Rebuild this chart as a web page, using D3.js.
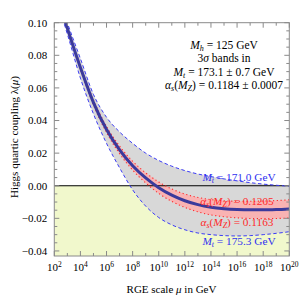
<!DOCTYPE html>
<html>
<head>
<meta charset="utf-8">
<script src="https://cdn.jsdelivr.net/npm/d3@7"></script>
<style>
  body { margin: 0; background: #fff; }
</style>
</head>
<body>
<div id="chart"></div>
<script>
// log10 of the RGE scale in GeV
const logMu = [2.5, 3, 4, 5, 6, 7, 8, 9, 10, 11, 12, 13, 14, 15, 16, 17, 18, 19, 20];
// central curve (Mt = 173.1, alpha_s = 0.1184)
const lamCentral = [0.109, 0.0965, 0.0725, 0.051, 0.0345, 0.0220, 0.0123, 0.0048, -0.0012, -0.0058, -0.0092, -0.0116, -0.0132, -0.0141, -0.0146, -0.0148, -0.0148, -0.0146, -0.0142];
// Mt = 171.0 GeV
const lamMtLow = [0.112, 0.100, 0.078, 0.056, 0.042, 0.033, 0.026, 0.020, 0.0155, 0.0120, 0.0093, 0.0072, 0.0056, 0.0042, 0.0030, 0.0019, 0.0010, 0.0003, -0.0003];
// Mt = 175.3 GeV
const lamMtHigh = [0.106, 0.093, 0.066, 0.044, 0.026, 0.0110, -0.0025, -0.0125, -0.0195, -0.0240, -0.0270, -0.0290, -0.0300, -0.0306, -0.0308, -0.0306, -0.0300, -0.0292, -0.0282];
// alpha_s(MZ) = 0.1205
const lamAsHigh = [0.1098, 0.0975, 0.0737, 0.0525, 0.0364, 0.0243, 0.0150, 0.0079, 0.0023, -0.0020, -0.0051, -0.0072, -0.0085, -0.0092, -0.0095, -0.0095, -0.0094, -0.0091, -0.0086];
// alpha_s(MZ) = 0.1163
const lamAsLow = [0.1082, 0.0955, 0.0713, 0.0495, 0.0326, 0.0197, 0.0096, 0.0017, -0.0047, -0.0096, -0.0133, -0.0160, -0.0179, -0.0190, -0.0197, -0.0201, -0.0202, -0.0201, -0.0198];

const xTicksMajor = [2, 4, 6, 8, 10, 12, 14, 16, 18, 20];
const xTicksMinor = [3, 5, 7, 9, 11, 13, 15, 17, 19];
const yTicksMajor = [-0.04, -0.02, 0.00, 0.02, 0.04, 0.06, 0.08, 0.10];
const yTicksMinor = [-0.035, -0.03, -0.025, -0.015, -0.01, -0.005, 0.005, 0.01, 0.015, 0.025, 0.03, 0.035, 0.045, 0.05, 0.055, 0.065, 0.07, 0.075, 0.085, 0.09, 0.095];

const W = 305, H = 303;
const margin = { top: 22.7, right: 15.7, bottom: 47, left: 54.3 };
const iw = W - margin.left - margin.right;
const ih = H - margin.top - margin.bottom;

const svg = d3.select('#chart').append('svg')
  .attr('width', W).attr('height', H)
  .attr('font-family', '"Liberation Serif", "DejaVu Serif", serif');

const x = d3.scaleLinear().domain([2, 20]).range([0, iw]);
const y = d3.scaleLinear().domain([-0.0431, 0.10]).range([ih, 0]);

svg.append('defs').append('clipPath').attr('id', 'clip')
  .append('rect').attr('width', iw).attr('height', ih);

const g = svg.append('g').attr('transform', 'translate(' + margin.left + ',' + margin.top + ')');
const plot = g.append('g').attr('clip-path', 'url(#clip)');

// unstable region
plot.append('rect')
  .attr('x', 0).attr('y', y(0))
  .attr('width', iw).attr('height', ih - y(0))
  .attr('fill', '#f1f8cc');

const rows = logMu.map((m, i) => ({ m: m, c: lamCentral[i], tl: lamMtLow[i], th: lamMtHigh[i], ah: lamAsHigh[i], al: lamAsLow[i] }));

const area = (lo, hi) => d3.area().curve(d3.curveMonotoneX)
  .x(d => x(d.m)).y0(d => y(d[lo])).y1(d => y(d[hi]));
const line = key => d3.line().curve(d3.curveMonotoneX)
  .x(d => x(d.m)).y(d => y(d[key]));

plot.append('path').attr('d', area('th', 'tl')(rows)).attr('fill', '#d8d8d8');
plot.append('path').attr('d', area('al', 'ah')(rows)).attr('fill', '#f9b3b3');

plot.append('line')
  .attr('x1', 0).attr('x2', iw).attr('y1', y(0)).attr('y2', y(0))
  .attr('stroke', '#000').attr('stroke-width', 1.1);

['ah', 'al'].forEach(k => {
  plot.append('path').attr('d', line(k)(rows))
    .attr('fill', 'none').attr('stroke', '#ff2a2a').attr('stroke-width', 1.1)
    .attr('stroke-dasharray', '1.2,2.6');
});
['tl', 'th'].forEach(k => {
  plot.append('path').attr('d', line(k)(rows))
    .attr('fill', 'none').attr('stroke', '#3b3bf5').attr('stroke-width', 1)
    .attr('stroke-dasharray', '3.5,2.5');
});
plot.append('path').attr('d', line('c')(rows))
  .attr('fill', 'none').attr('stroke', '#3a3a9c').attr('stroke-width', 3);

// frame
const frameCol = '#8a8a8a';
g.append('rect').attr('width', iw).attr('height', ih)
  .attr('fill', 'none').attr('stroke', frameCol).attr('stroke-width', 1);

function ticks(vals, len, isX) {
  vals.forEach(v => {
    if (isX) {
      g.append('line').attr('x1', x(v)).attr('x2', x(v)).attr('y1', ih).attr('y2', ih - len).attr('stroke', frameCol);
      g.append('line').attr('x1', x(v)).attr('x2', x(v)).attr('y1', 0).attr('y2', len).attr('stroke', frameCol);
    } else {
      g.append('line').attr('y1', y(v)).attr('y2', y(v)).attr('x1', 0).attr('x2', len).attr('stroke', frameCol);
      g.append('line').attr('y1', y(v)).attr('y2', y(v)).attr('x1', iw).attr('x2', iw - len).attr('stroke', frameCol);
    }
  });
}
ticks(xTicksMajor, 5, true);
ticks(xTicksMinor, 3, true);
ticks(yTicksMajor, 5, false);
ticks(yTicksMinor, 3, false);

// tick labels
xTicksMajor.forEach(v => {
  const t = g.append('text').attr('x', x(v)).attr('y', ih + 15)
    .attr('text-anchor', 'middle').attr('font-size', 11);
  t.append('tspan').text('10');
  t.append('tspan').attr('dy', -4).attr('font-size', 7.5).text(v);
});
yTicksMajor.forEach(v => {
  g.append('text').attr('x', -7).attr('y', y(v) + 3.8)
    .attr('text-anchor', 'end').attr('font-size', 11)
    .text(d3.format('.2f')(v).replace('-', '\u2212'));
});

// axis titles
const xt = svg.append('text').attr('x', 171.5).attr('y', 293)
  .attr('text-anchor', 'middle').attr('font-size', 11);
xt.append('tspan').text('RGE scale ');
xt.append('tspan').attr('font-style', 'italic').text('\u03bc');
xt.append('tspan').text(' in GeV');

const yt = svg.append('text').attr('transform', 'translate(18,137) rotate(-90)')
  .attr('text-anchor', 'middle').attr('font-size', 11);
yt.append('tspan').text('Higgs quartic coupling \u03bb(');
yt.append('tspan').attr('font-style', 'italic').text('\u03bc');
yt.append('tspan').text(')');

// info block
function sym(t, main, sub, rest) {
  t.append('tspan').attr('font-style', 'italic').text(main);
  t.append('tspan').attr('font-style', 'italic').attr('font-size', '0.7em').attr('dy', 2).text(sub);
  t.append('tspan').attr('dy', -2).text(rest);
}
const info = svg.append('g').attr('font-size', 11.5).attr('text-anchor', 'middle');
const cx = 224;
sym(info.append('text').attr('x', cx).attr('y', 48.5), 'M', 'h', ' = 125 GeV');
const l2 = info.append('text').attr('x', cx).attr('y', 62);
l2.append('tspan').text('3');
l2.append('tspan').attr('font-style', 'italic').text('\u03c3');
l2.append('tspan').text(' bands in');
sym(info.append('text').attr('x', cx).attr('y', 75.5), 'M', 't', ' = 173.1 \u00b1 0.7 GeV');
const l4 = info.append('text').attr('x', cx).attr('y', 89);
sym(l4, '\u03b1', 's', '(');
l4.append('tspan').attr('font-style', 'italic').text('M');
l4.append('tspan').attr('font-style', 'italic').attr('font-size', '0.7em').attr('dy', 2).text('Z');
l4.append('tspan').attr('dy', -2).text(') = 0.1184 \u00b1 0.0007');

// curve labels
function asLabel(yy, val) {
  const t = svg.append('text').attr('x', 237).attr('y', yy)
    .attr('text-anchor', 'middle').attr('font-size', 11.3).attr('fill', '#ff2a2a');
  sym(t, '\u03b1', 's', '(');
  t.append('tspan').attr('font-style', 'italic').text('M');
  t.append('tspan').attr('font-style', 'italic').attr('font-size', '0.7em').attr('dy', 2).text('Z');
  t.append('tspan').attr('dy', -2).text(') = ' + val);
}
function mtLabel(yy, val) {
  const t = svg.append('text').attr('x', 239).attr('y', yy)
    .attr('text-anchor', 'middle').attr('font-size', 11.3).attr('fill', '#3030f0');
  sym(t, 'M', 't', ' = ' + val + ' GeV');
}
mtLabel(181, '171.0');
asLabel(205, '0.1205');
asLabel(225.5, '0.1163');
mtLabel(244.5, '175.3');
</script>
</body>
</html>
